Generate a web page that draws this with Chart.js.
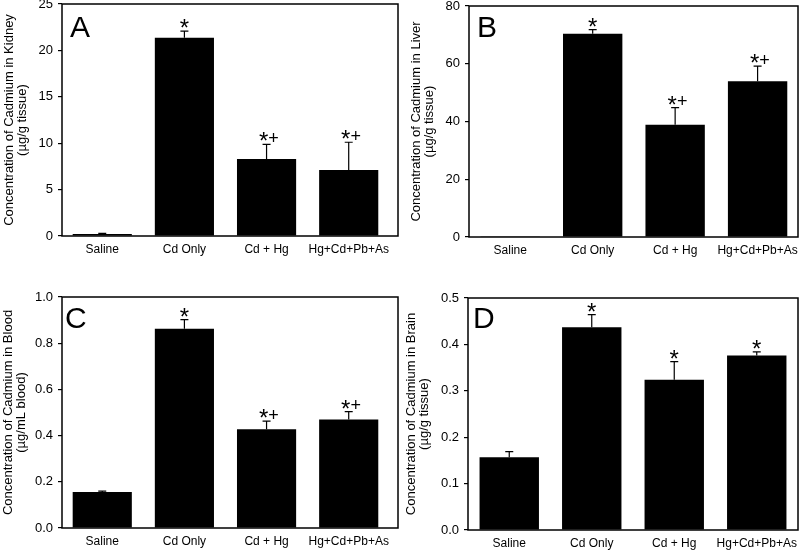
<!DOCTYPE html>
<html>
<head>
<meta charset="utf-8">
<script src="https://cdn.jsdelivr.net/npm/chart.js@4.4.1/dist/chart.umd.min.js"></script>
<style>
    body { margin: 0; background: #fff; }
    canvas { position: absolute; }
</style>
</head>
<body>
<canvas id="kidneyChart" width="400" height="270" style="left:0;top:0"></canvas>
<canvas id="liverChart" width="400" height="270" style="left:400px;top:0"></canvas>
<canvas id="bloodChart" width="400" height="280" style="left:0;top:270px"></canvas>
<canvas id="brainChart" width="400" height="280" style="left:400px;top:270px"></canvas>
<script>
const groups = ["Saline", "Cd Only", "Cd + Hg", "Hg+Cd+Pb+As"];

const kidneyMean = [0.22, 21.35, 8.3, 7.1];
const kidneyErr = [0.06, 0.72, 1.58, 3.0];
const kidneyMarks = ["", "*", "*+", "*+"];
const kidneyTicks = [0, 5, 10, 15, 20, 25];

const liverMean = [0.1, 70.4, 38.9, 53.9];
const liverErr = [0, 1.4, 5.9, 5.3];
const liverMarks = ["", "*", "*+", "*+"];
const liverTicks = [0, 20, 40, 60, 80];

const bloodMean = [0.156, 0.863, 0.427, 0.47];
const bloodErr = [0.004, 0.039, 0.036, 0.034];
const bloodMarks = ["", "*", "*+", "*+"];
const bloodTicks = [0, 0.2, 0.4, 0.6, 0.8, 1.0];

const brainMean = [0.157, 0.437, 0.324, 0.376];
const brainErr = [0.012, 0.027, 0.039, 0.008];
const brainMarks = ["", "*", "*", "*"];
const brainTicks = [0, 0.1, 0.2, 0.3, 0.4, 0.5];

const FONT = "Arial, 'Liberation Sans', sans-serif";

// error bars, frame, significance marks and panel letter
const panelExtras = {
    id: "panelExtras",
    afterDatasetsDraw(chart, args, o) {
        const { ctx, chartArea: a, scales: { x, y } } = chart;
        ctx.save();
        ctx.strokeStyle = "#000";
        ctx.fillStyle = "#000";

        ctx.lineWidth = 1.2;
        const tops = o.mean.map((m, i) => {
            const px = x.getPixelForValue(i);
            const yBar = y.getPixelForValue(m);
            const yEnd = y.getPixelForValue(m + o.err[i]);
            if (o.err[i] > 0) {
                ctx.beginPath();
                ctx.moveTo(px, yBar);
                ctx.lineTo(px, yEnd);
                ctx.moveTo(px - 4, yEnd);
                ctx.lineTo(px + 4, yEnd);
                ctx.stroke();
            }
            return Math.min(yBar, yEnd);
        });

        ctx.lineWidth = 1.5;
        ctx.strokeRect(a.left, a.top, a.right - a.left, a.bottom - a.top);

        ctx.textAlign = "center";
        ctx.textBaseline = "alphabetic";
        o.marks.forEach((mark, i) => {
            if (!mark) return;
            const px = x.getPixelForValue(i);
            ctx.font = "24px " + FONT;
            const sm = ctx.measureText("*");
            const starBase = tops[i] - 3 - sm.actualBoundingBoxDescent;
            const starMid = starBase + (sm.actualBoundingBoxDescent - sm.actualBoundingBoxAscent) / 2;
            const sx = mark.length > 1 ? px - 3 : px;
            ctx.fillText("*", sx, starBase);
            if (mark.includes("+")) {
                ctx.font = "18px " + FONT;
                const pm = ctx.measureText("+");
                const plusBase = starMid - (pm.actualBoundingBoxDescent - pm.actualBoundingBoxAscent) / 2;
                ctx.fillText("+", px + 7, plusBase);
            }
        });

        ctx.textAlign = "left";
        ctx.font = "30px " + FONT;
        ctx.fillText(o.letter, a.left + o.letterDx, a.top + o.letterBase);
        ctx.restore();
    }
};

function drawPanel(id, cfg) {
    const canvas = document.getElementById(id);
    const W = canvas.width;
    const H = canvas.height;
    const area = cfg.area;

    new Chart(canvas, {
        type: "bar",
        data: {
            datasets: [{
                data: cfg.mean.map((v, i) => ({ x: i, y: v })),
                backgroundColor: "#000",
                borderWidth: 0,
                categoryPercentage: 1,
                barPercentage: 0.72
            }]
        },
        options: {
            responsive: false,
            animation: false,
            layout: { padding: { left: 0, top: area.top, right: W - area.right, bottom: 0 } },
            plugins: {
                legend: { display: false },
                tooltip: { enabled: false },
                panelExtras: {
                    mean: cfg.mean,
                    err: cfg.err,
                    marks: cfg.marks,
                    letter: cfg.letter,
                    letterDx: cfg.letterDx,
                    letterBase: cfg.letterBase
                }
            },
            scales: {
                x: {
                    type: "linear",
                    offset: false,
                    min: cfg.xRange[0],
                    max: cfg.xRange[1],
                    afterBuildTicks: s => { s.ticks = groups.map((_, i) => ({ value: i })); },
                    afterFit: s => { s.height = H - area.bottom; s.paddingLeft = 0; s.paddingRight = 0; },
                    grid: { display: false, drawTicks: false, tickLength: 0 },
                    border: { display: false },
                    ticks: {
                        autoSkip: false,
                        maxRotation: 0,
                        padding: 6,
                        color: "#000",
                        font: { family: FONT, size: 12 },
                        callback: v => groups[v]
                    }
                },
                y: {
                    min: cfg.ticks[0],
                    max: cfg.ticks[cfg.ticks.length - 1],
                    afterBuildTicks: s => { s.ticks = cfg.ticks.map(v => ({ value: v })); },
                    afterFit: s => { s.width = area.left; s.paddingTop = 0; s.paddingBottom = 0; },
                    grid: { drawOnChartArea: false, drawTicks: true, tickLength: 4, color: "#000", lineWidth: 1.2 },
                    border: { display: false },
                    ticks: {
                        padding: 5,
                        color: "#000",
                        font: { family: FONT, size: 13 },
                        callback: v => cfg.decimals ? v.toFixed(cfg.decimals) : String(v)
                    },
                    title: {
                        display: true,
                        text: cfg.title,
                        color: "#000",
                        font: { family: FONT, size: 13, lineHeight: 1.0 },
                        padding: { top: cfg.titlePad, bottom: 0 }
                    }
                }
            }
        },
        plugins: [panelExtras]
    });
}

drawPanel("kidneyChart", {
    mean: kidneyMean, err: kidneyErr, marks: kidneyMarks, ticks: kidneyTicks, decimals: 0,
    title: ["Concentration of Cadmium in Kidney", "(\u00b5g/g tissue)"],
    letter: "A", letterDx: 8, letterBase: 33, titlePad: 3,
    area: { left: 62, right: 398, top: 4, bottom: 236 }, xRange: [-0.49, 3.6]
});

drawPanel("liverChart", {
    mean: liverMean, err: liverErr, marks: liverMarks, ticks: liverTicks, decimals: 0,
    title: ["Concentration of Cadmium in Liver", "(\u00b5g/g tissue)"],
    letter: "B", letterDx: 8, letterBase: 31, titlePad: 10,
    area: { left: 69, right: 398, top: 6, bottom: 237 }, xRange: [-0.5, 3.49]
});

drawPanel("bloodChart", {
    mean: bloodMean, err: bloodErr, marks: bloodMarks, ticks: bloodTicks, decimals: 1,
    title: ["Concentration of Cadmium in Blood", "(\u00b5g/mL blood)"],
    letter: "C", letterDx: 3, letterBase: 31, titlePad: 2,
    area: { left: 62, right: 398, top: 27, bottom: 258 }, xRange: [-0.49, 3.6]
});

drawPanel("brainChart", {
    mean: brainMean, err: brainErr, marks: brainMarks, ticks: brainTicks, decimals: 1,
    title: ["Concentration of Cadmium in Brain", "(\u00b5g/g tissue)"],
    letter: "D", letterDx: 5, letterBase: 30, titlePad: 5,
    area: { left: 68, right: 398, top: 28, bottom: 260 }, xRange: [-0.5, 3.5]
});
</script>
</body>
</html>
